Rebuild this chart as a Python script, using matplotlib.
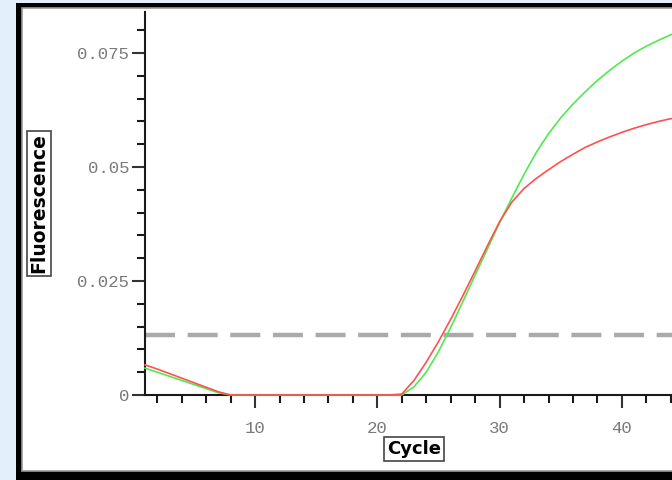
import numpy as np
import matplotlib.pyplot as plt
from matplotlib.patches import Rectangle
from matplotlib.ticker import MultipleLocator, FixedLocator, FixedFormatter

plt.rcParams['font.family'] = ['Liberation Mono', 'DejaVu Sans Mono']

# amplification curves, one value per cycle
cycles = np.arange(1, 46)
green_vals = [0.0059, 0.0050, 0.0041, 0.0032, 0.0023, 0.0014, 0.0005, 0.0, 0.0, 0.0,
              0.0, 0.0, 0.0, 0.0, 0.0, 0.0, 0.0, 0.0, 0.0, 0.0,
              0.0, 0.0, 0.0018, 0.0050, 0.0095, 0.0148, 0.0205, 0.0263, 0.0320, 0.0378,
              0.0432, 0.0484, 0.0532, 0.0573, 0.0608, 0.0638, 0.0665, 0.0690, 0.0712, 0.0732,
              0.0750, 0.0765, 0.0778, 0.0790, 0.0800]
red_vals = [0.0066, 0.0057, 0.0047, 0.0037, 0.0027, 0.0017, 0.0007, 0.0, 0.0, 0.0,
            0.0, 0.0, 0.0, 0.0, 0.0, 0.0, 0.0, 0.0, 0.0, 0.0,
            0.0, 0.0002, 0.0032, 0.0072, 0.0117, 0.0166, 0.0218, 0.0272, 0.0327, 0.0380,
            0.0423, 0.0453, 0.0475, 0.0494, 0.0512, 0.0528, 0.0543, 0.0555, 0.0566, 0.0576,
            0.0585, 0.0593, 0.0600, 0.0606, 0.0612]
threshold = 0.0132

x_ticks = [10, 20, 30, 40]
y_ticks = [0, 0.025, 0.05, 0.075]
y_tick_labels = ['0', '0.025', '0.05', '0.075']

W, H = 672, 480
fig = plt.figure(figsize=(W / 100, H / 100), dpi=100, facecolor='#e3effb')

# black frame with white panel inside
fig.add_artist(Rectangle((16 / W, -0.1), 2, 1 - 3 / H + 0.1, facecolor='black',
                         edgecolor='none', transform=fig.transFigure, zorder=-3))
fig.add_artist(Rectangle((21.5 / W, 9 / H), 2, 1 - 7.5 / H - 9 / H, facecolor='white',
                         edgecolor='#9a9a9a', lw=1.2, transform=fig.transFigure, zorder=-2))

ax = fig.add_axes([145 / W, 85 / H, 538 / W, 383 / H])
ax.patch.set_visible(False)

# threshold line
thr = ax.axhline(threshold, color='#aaaaaa', lw=3.2, zorder=1)
thr.set_dashes((21.6 / 3.2, 9.1 / 3.2))

ax.plot(cycles, green_vals, color='#4fea4f', lw=1.2, clip_on=False, zorder=3)
ax.plot(cycles, red_vals, color='#ff5050', lw=1.2, clip_on=False, zorder=3)

ax.set_xlim(1, 45)
ax.set_ylim(0, 0.084)

ax.xaxis.set_major_locator(FixedLocator(x_ticks))
ax.xaxis.set_minor_locator(MultipleLocator(2))
ax.yaxis.set_major_locator(FixedLocator(y_ticks))
ax.yaxis.set_major_formatter(FixedFormatter(y_tick_labels))
ax.yaxis.set_minor_locator(MultipleLocator(0.005))

for side in ['top', 'right']:
    ax.spines[side].set_visible(False)
for side in ['left', 'bottom']:
    ax.spines[side].set_color('#1a1a1a')
    ax.spines[side].set_linewidth(1.5)

ax.tick_params(which='major', direction='out', length=9.5, width=1.5, color='#333333',
               labelsize=12.5, labelcolor='#7a7a7a')
ax.tick_params(which='minor', direction='out', length=6, width=1.5, color='#1a1a1a')
ax.tick_params(axis='x', which='major', pad=9)
ax.tick_params(axis='y', which='major', pad=2)

box = dict(boxstyle='square,pad=0.15', facecolor='white', edgecolor='#444444', lw=1.2)
ax.set_xlabel('Cycle', fontsize=13, fontweight='bold', family='DejaVu Sans', bbox=box)
ax.set_ylabel('Fluorescence', fontsize=13.5, fontweight='bold', family='DejaVu Sans', bbox=box)
ax.xaxis.set_label_coords(0.5, -0.141)
ax.xaxis.label.set_va('center')
ax.yaxis.set_label_coords(-0.197, 0.5)
ax.yaxis.label.set_va('center')

fig.savefig('out.png', dpi=100)
